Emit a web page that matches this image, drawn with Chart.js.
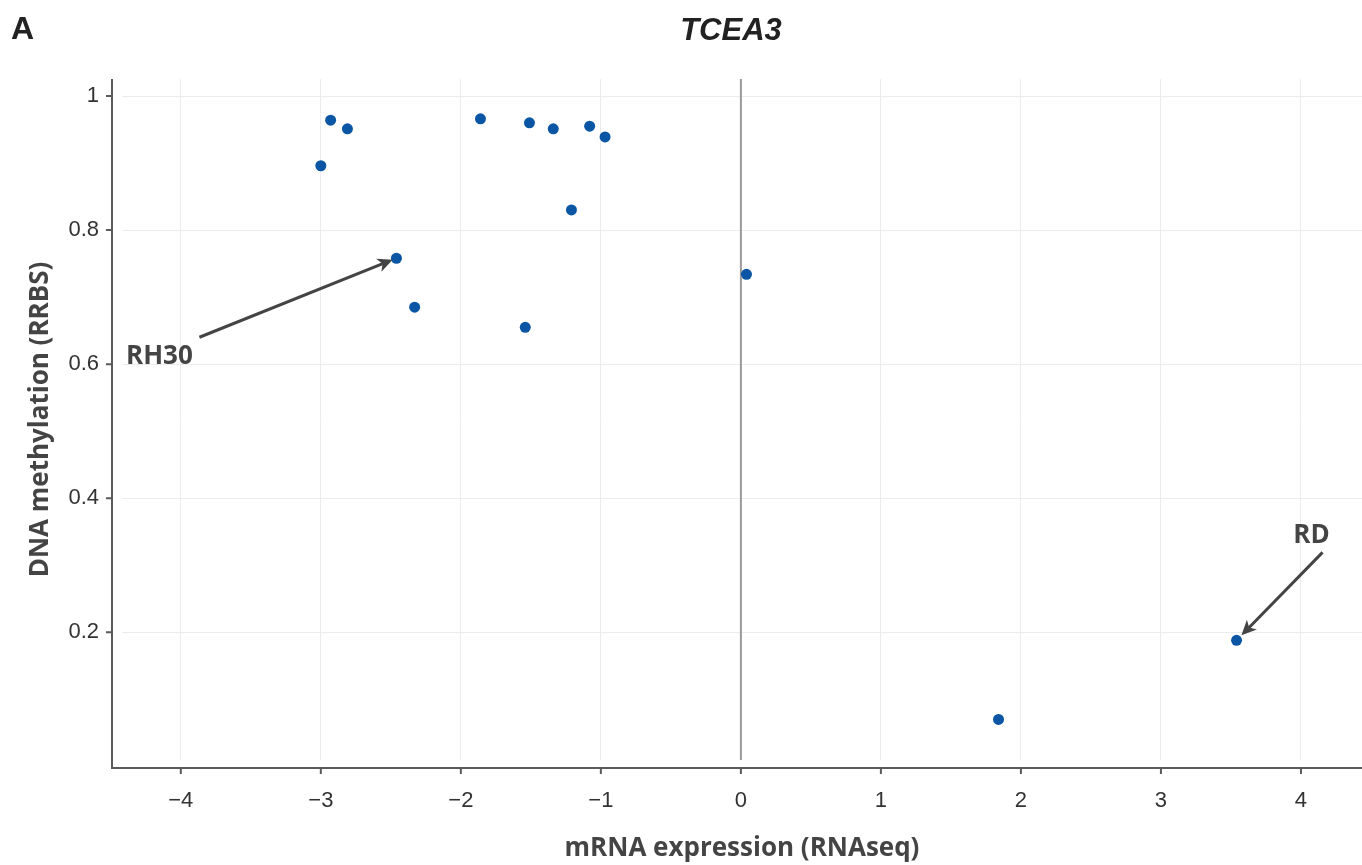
<!DOCTYPE html>
<html>
<head>
<meta charset="utf-8">
<script src="https://cdn.jsdelivr.net/npm/chart.js@4"></script>
<style>
  html,body{margin:0;padding:0;background:#fff;overflow:hidden;}
  #wrap{position:relative;width:1362px;height:865px;}
  canvas{display:block;}
  #panel{position:absolute;left:11px;top:10px;font:bold 32px 'Liberation Sans',Arial,sans-serif;color:#222;}
  #title{position:absolute;left:0;width:1462px;top:12px;text-align:center;font:italic bold 31px 'Liberation Sans',Arial,sans-serif;color:#222;}
</style>
</head>
<body>
<div id="wrap">
  <canvas id="c" width="1362" height="865"></canvas>
  <div id="panel">A</div>
  <div id="title">TCEA3</div>
</div>
<script>
// cell lines, x = mRNA expression, y = DNA methylation
const expr = [-3.00,-2.93,-2.81,-2.46,-2.33,-1.86,-1.54,-1.51,-1.34,-1.21,-1.08,-0.97,0.04,1.84,3.54];
const meth = [0.896,0.964,0.951,0.758,0.685,0.966,0.655,0.960,0.951,0.830,0.955,0.939,0.734,0.070,0.188];

const xTicks = [-4,-3,-2,-1,0,1,2,3,4];
const yTicks = [0.2,0.4,0.6,0.8,1];

const noteLabels = ['RH30','RD'];
const noteX = [-2.46, 3.54];
const noteY = [0.758, 0.188];

// arrow tail offsets (px) and text offsets from tail
const NOTE_STYLE = [
  {ax:-197, ay:79, tx:-40, ty:19, standoff:4},
  {ax:86, ay:-88, tx:-11, ty:-17, standoff:7}
];

const AXIS_COL = '#5a5a5a';
const TXT = '#444';

const deco = {
  id:'deco',
  beforeDatasetsDraw(chart){
    const {ctx, chartArea:a, scales:{x,y}} = chart;
    ctx.save();
    // zero line
    const z = x.getPixelForValue(0);
    ctx.strokeStyle = '#999';
    ctx.lineWidth = 2;
    ctx.beginPath(); ctx.moveTo(z, a.top); ctx.lineTo(z, a.bottom); ctx.stroke();
    // offset axis lines
    const ox = a.left - 10, oy = a.bottom + 8;
    ctx.strokeStyle = AXIS_COL;
    ctx.lineWidth = 2;
    ctx.beginPath();
    ctx.moveTo(ox, a.top); ctx.lineTo(ox, oy); ctx.lineTo(chart.width, oy);
    ctx.stroke();
    ctx.beginPath();
    xTicks.forEach(v => { const p = x.getPixelForValue(v); ctx.moveTo(p, oy); ctx.lineTo(p, oy + 6); });
    yTicks.forEach(v => { const p = y.getPixelForValue(v); ctx.moveTo(ox, p); ctx.lineTo(ox - 6, p); });
    ctx.stroke();
    ctx.restore();
  },
  afterDatasetsDraw(chart){
    const {ctx, scales:{x,y}} = chart;
    ctx.save();
    noteLabels.forEach((lab, i) => {
      const s = NOTE_STYLE[i];
      const px = x.getPixelForValue(noteX[i]), py = y.getPixelForValue(noteY[i]);
      const tx = px + s.ax, ty = py + s.ay;
      const ang = Math.atan2(py - ty, px - tx);
      const len = Math.hypot(px - tx, py - ty) - s.standoff;
      const hx = tx + Math.cos(ang) * len, hy = ty + Math.sin(ang) * len;
      ctx.strokeStyle = '#444'; ctx.fillStyle = '#444'; ctx.lineWidth = 3;
      ctx.beginPath(); ctx.moveTo(tx, ty);
      ctx.lineTo(hx - Math.cos(ang) * 10, hy - Math.sin(ang) * 10); ctx.stroke();
      ctx.beginPath();
      ctx.moveTo(hx, hy);
      ctx.lineTo(hx - Math.cos(ang) * 15 + Math.sin(ang) * 7, hy - Math.sin(ang) * 15 - Math.cos(ang) * 7);
      ctx.lineTo(hx - Math.cos(ang) * 11, hy - Math.sin(ang) * 11);
      ctx.lineTo(hx - Math.cos(ang) * 15 - Math.sin(ang) * 7, hy - Math.sin(ang) * 15 + Math.cos(ang) * 7);
      ctx.closePath(); ctx.fill();
      ctx.font = "bold 26px 'Open Sans'";
      ctx.textAlign = 'center'; ctx.textBaseline = 'middle';
      ctx.fillText(lab, tx + s.tx, ty + s.ty);
    });
    ctx.restore();
  }
};

new Chart(document.getElementById('c'),{
  type:'scatter',
  data:{datasets:[{
    data:expr.map((v,i)=>({x:v,y:meth[i]})),
    backgroundColor:'#0b55a5',borderWidth:0,pointRadius:5.5,pointHoverRadius:5.5
  }]},
  options:{
    responsive:false,animation:false,events:[],
    layout:{autoPadding:false,padding:{top:79,right:0,left:0,bottom:0}},
    plugins:{legend:{display:false},tooltip:{enabled:false}},
    scales:{
      x:{type:'linear',min:-4.42,max:4.436,
        afterBuildTicks:s=>{s.ticks=xTicks.map(v=>({value:v}));},
        afterFit:s=>{s.height=105;s.paddingLeft=0;s.paddingRight=0;},
        grid:{color:'#ececec',lineWidth:1,drawTicks:false},border:{display:false},
        ticks:{padding:28,color:'#333',font:{family:'Liberation Sans',size:22},callback:v=>v<0?'\u2212'+Math.abs(v):String(v)},
        title:{display:true,text:'mRNA expression (RNAseq)',color:TXT,font:{family:'Open Sans',size:26,weight:'bold'},padding:{bottom:1}}
      },
      y:{type:'linear',min:0.0095,max:1.0254,
        afterBuildTicks:s=>{s.ticks=yTicks.map(v=>({value:v}));},
        afterFit:s=>{s.width=122;s.paddingTop=0;s.paddingBottom=0;},
        grid:{color:'#ececec',lineWidth:1,drawTicks:false},border:{display:false},
        ticks:{padding:23,color:'#333',font:{family:'Liberation Sans',size:22},callback:v=>String(v)},
        title:{display:true,text:'DNA methylation (RRBS)',color:TXT,font:{family:'Open Sans',size:26,weight:'bold'},padding:{top:25}}
      }
    }
  },
  plugins:[deco]
});
</script>
</body>
</html>
